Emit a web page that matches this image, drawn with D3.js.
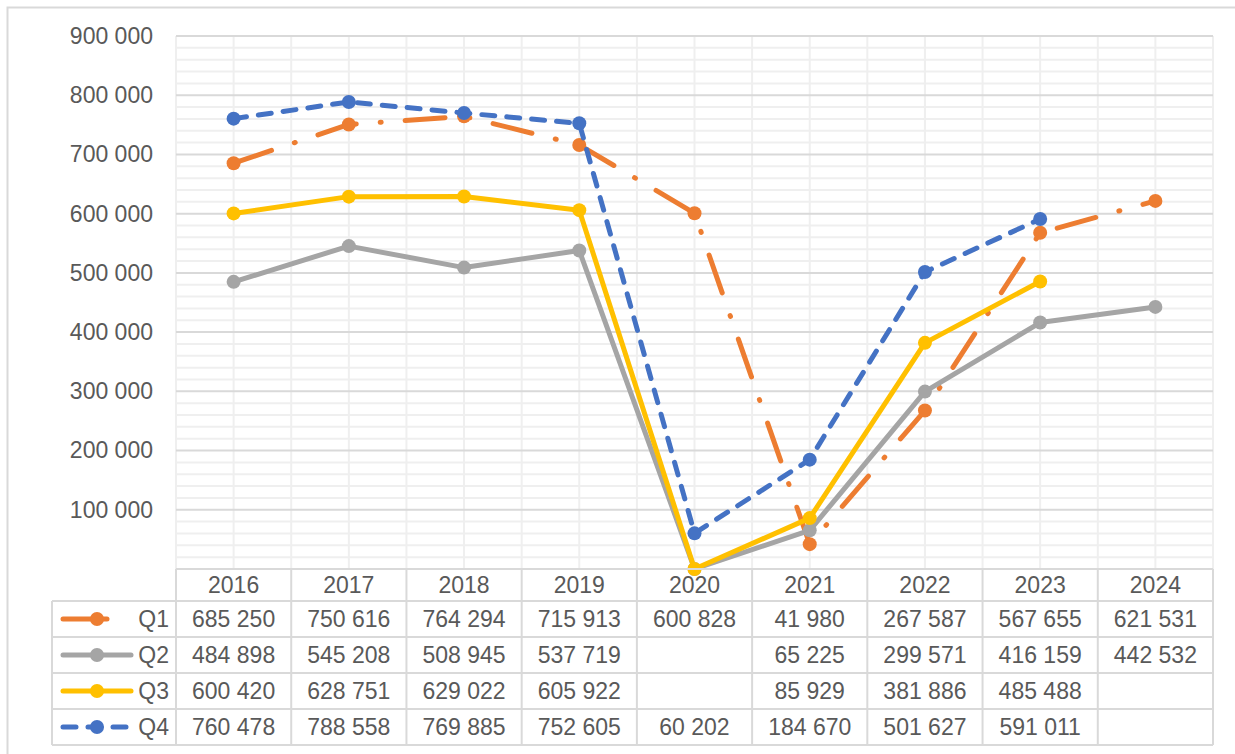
<!DOCTYPE html>
<html>
<head>
<meta charset="utf-8">
<script src="https://cdn.jsdelivr.net/npm/d3@7"></script>
<style>
  body { margin: 0; background: #fff; }
  svg { display: block; }
  text { font-family: "Liberation Sans", Arial, sans-serif; fill: #595959; }
</style>
</head>
<body>
<svg id="chart" width="1235" height="754"></svg>
<script>
// quarterly values per year, blank cells kept as null
const years = ["2016", "2017", "2018", "2019", "2020", "2021", "2022", "2023", "2024"];
const q1 = [685250, 750616, 764294, 715913, 600828, 41980, 267587, 567655, 621531];
const q2 = [484898, 545208, 508945, 537719, null, 65225, 299571, 416159, 442532];
const q3 = [600420, 628751, 629022, 605922, null, 85929, 381886, 485488, null];
const q4 = [760478, 788558, 769885, 752605, 60202, 184670, 501627, 591011, null];
const seriesNames = ["Q1", "Q2", "Q3", "Q4"];
const yTicks = [100000, 200000, 300000, 400000, 500000, 600000, 700000, 800000, 900000];

var series = [
  {name: "Q1", values: q1, color: "#ED7D31", dash: "40 24 1 24"},
  {name: "Q2", values: q2, color: "#A5A5A5", dash: null},
  {name: "Q3", values: q3, color: "#FFC000", dash: null},
  {name: "Q4", values: q4, color: "#4472C4", dash: "13 12"}
];

var plotLeft = 176, plotRight = 1213, plotTop = 36, plotBottom = 569;
var rowH = 36, headH = 32, tableLeft = 52;
var gridMajor = "#d9d9d9", gridMinor = "#efefef";

var svg = d3.select("#chart");
var fmt = d3.formatLocale({decimal: ",", thousands: " ", grouping: [3], currency: ["", ""]}).format(",d");

var x = d3.scaleBand().domain(years).range([plotLeft, plotRight]);
var y = d3.scaleLinear().domain([0, 900000]).range([plotBottom, plotTop]);
function cx(yr){ return x(yr) + x.bandwidth() / 2; }

// chart area border (only left/top visible in the frame)
svg.append("rect").attr("x", 7.5).attr("y", 7.5).attr("width", 1400).attr("height", 900)
  .attr("fill", "none").attr("stroke", gridMajor).attr("stroke-width", 2);

// gridlines
var grid = svg.append("g");
var minor = d3.range(0, 900001, 20000).filter(function(v){ return v % 100000 != 0; });
grid.selectAll(".minor").data(minor).enter().append("line")
  .attr("x1", plotLeft).attr("x2", plotRight)
  .attr("y1", function(d){ return y(d); }).attr("y2", function(d){ return y(d); })
  .attr("stroke", gridMinor).attr("stroke-width", 2);
var vlines = [];
years.forEach(function(yr){ vlines.push(x(yr)); vlines.push(cx(yr)); });
vlines.push(plotRight);
grid.selectAll(".vline").data(vlines).enter().append("line")
  .attr("x1", function(d){ return d; }).attr("x2", function(d){ return d; })
  .attr("y1", plotTop).attr("y2", plotBottom)
  .attr("stroke", gridMinor).attr("stroke-width", 2);
grid.selectAll(".major").data(yTicks).enter().append("line")
  .attr("x1", plotLeft).attr("x2", plotRight)
  .attr("y1", function(d){ return y(d); }).attr("y2", function(d){ return y(d); })
  .attr("stroke", gridMajor).attr("stroke-width", 2);

// y axis labels
var yAxis = svg.append("g").attr("transform", "translate(" + (plotLeft - 20) + ",0)")
  .call(d3.axisLeft(y).tickValues(yTicks).tickSize(0).tickFormat(fmt));
yAxis.select(".domain").remove();
yAxis.selectAll("text").attr("font-size", 23).attr("fill", "#595959")
  .attr("font-family", "Liberation Sans, Arial, sans-serif");

// lines: blanks inside the range plot as zero, trailing blanks are skipped
function plotPoints(values){
  var last = -1;
  values.forEach(function(v, i){ if (v != null) last = i; });
  return values.slice(0, last + 1).map(function(v, i){ return {yr: years[i], v: v == null ? 0 : v}; });
}
var line = d3.line().x(function(d){ return cx(d.yr); }).y(function(d){ return y(d.v); });
var lines = svg.append("g");
series.forEach(function(s){
  var pts = plotPoints(s.values);
  var g = lines.append("g");
  g.append("path").datum(pts).attr("d", line)
    .attr("fill", "none").attr("stroke", s.color).attr("stroke-width", 5)
    .attr("stroke-linecap", "round").attr("stroke-linejoin", "round")
    .attr("stroke-dasharray", s.dash);
  g.selectAll("circle").data(pts).enter().append("circle")
    .attr("cx", function(d){ return cx(d.yr); }).attr("cy", function(d){ return y(d.v); })
    .attr("r", 7).attr("fill", s.color);
});

// data table
var table = svg.append("g");
var tableBottom = plotBottom + headH + rowH * series.length;
var tline = function(x1, y1, x2, y2){
  table.append("line").attr("x1", x1).attr("y1", y1).attr("x2", x2).attr("y2", y2)
    .attr("stroke", gridMajor).attr("stroke-width", 2);
};
tline(plotLeft, plotBottom, plotRight, plotBottom);
for (var r = 0; r <= series.length; r++) {
  var yy = plotBottom + headH + r * rowH;
  tline(tableLeft, yy, plotRight, yy);
}
tline(tableLeft, plotBottom + headH, tableLeft, tableBottom);
years.forEach(function(yr){ tline(x(yr), plotBottom, x(yr), tableBottom); });
tline(plotRight, plotBottom, plotRight, tableBottom);

table.selectAll(".yr").data(years).enter().append("text")
  .attr("x", function(d){ return cx(d); }).attr("y", plotBottom + headH / 2 + 8)
  .attr("text-anchor", "middle").attr("font-size", 23).text(function(d){ return d; });

series.forEach(function(s, i){
  var rowMid = plotBottom + headH + i * rowH + rowH / 2;
  table.selectAll(".v" + i).data(s.values).enter().append("text")
    .attr("x", function(d, j){ return cx(years[j]); }).attr("y", rowMid + 8)
    .attr("text-anchor", "middle").attr("font-size", 23)
    .text(function(d){ return d == null ? "" : fmt(d); });
  table.append("text").attr("x", 169).attr("y", rowMid + 8)
    .attr("text-anchor", "end").attr("font-size", 23).text(seriesNames[i]);
  // legend key
  var key = table.append("g");
  key.append("line").attr("x1", 63).attr("x2", 131).attr("y1", rowMid).attr("y2", rowMid)
    .attr("stroke", s.color).attr("stroke-width", 5).attr("stroke-linecap", "round")
    .attr("stroke-dasharray", s.name == "Q1" ? "44 100" : s.dash);
  key.append("circle").attr("cx", 97).attr("cy", rowMid).attr("r", 7).attr("fill", s.color);
});
</script>
</body>
</html>
